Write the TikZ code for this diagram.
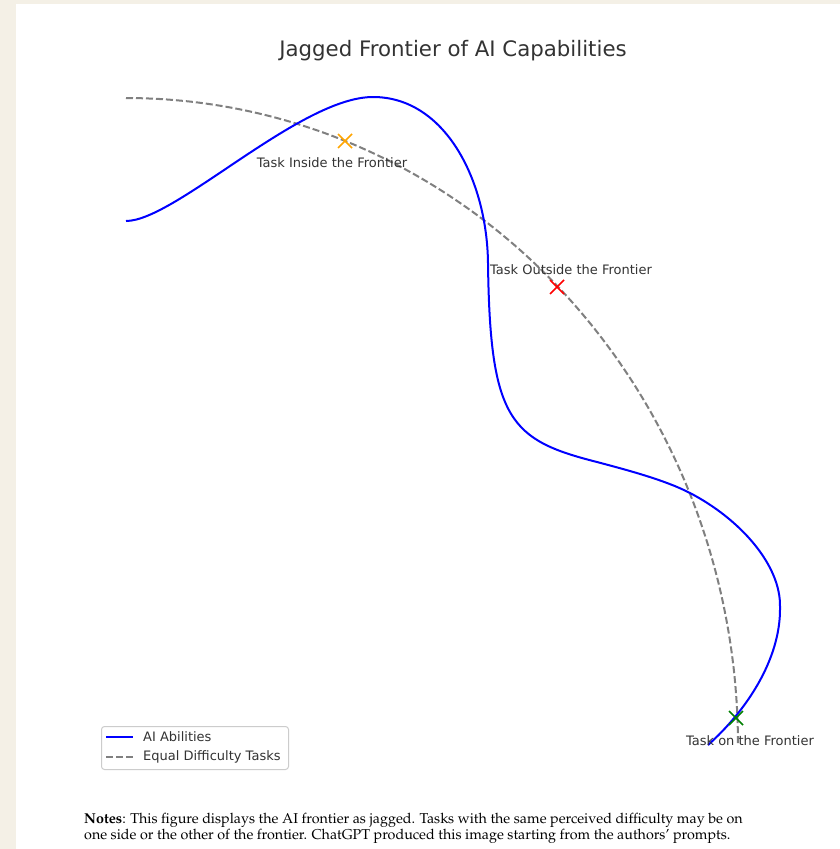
\documentclass[tikz,border=0pt]{standalone}
\usepackage[T1]{fontenc}
\usepackage{fontspec}
\setmainfont{DejaVu Sans}
\newcommand\notesfont{\fontencoding{T1}\fontfamily{ppl}\selectfont}
\definecolor{pagebg}{HTML}{F4F0E6}
\definecolor{txtgray}{HTML}{333333}
\definecolor{mplorange}{HTML}{FFA500}
\definecolor{mplgreen}{HTML}{008000}
\definecolor{mplgray}{HTML}{808080}
\tikzset{
  abil/.style={draw=blue, line width=2pt, line join=round},
  equal/.style={draw=mplgray, line width=2pt, dash pattern=on 7pt off 3pt},
  lbl/.style={text=txtgray, font=\fontsize{13}{15}\selectfont, inner sep=0pt},
  xmark/.style={line width=1.7pt},
  legframe/.style={draw=black!20, line width=1pt, rounded corners=3pt, fill=white},
  notes/.style={anchor=base west, inner sep=0pt, font=\notesfont\fontsize{14.3}{17}\selectfont}
}
\begin{document}
\begin{tikzpicture}[x=1pt,y=-1pt]
\useasboundingbox (0,0) rectangle (840,849);
\fill[pagebg] (0,0) rectangle (840,849);
\fill[white] (16,4) rectangle (840,849);
% title
\node[lbl, font=\fontsize{21.3}{25}\selectfont] (title) at (453,51) {Jagged Frontier of AI Capabilities};
% equal difficulty curve
\draw[equal] plot[domain=0:90, samples=120] ({126+612*sin(\x)},{745-647*cos(\x)});
% AI abilities curve
\draw[abil] (126,221) .. controls (175,221) and (300,97) .. (373,97)
  .. controls (445,97) and (487,180) .. (488,263)
  .. controls (490,420) and (510,440) .. (597,462)
  .. controls (627,470) and (665,480) .. (690,493)
  .. controls (740,519) and (781,565) .. (780,607)
  .. controls (781,660) and (745,712) .. (708,745);
% task markers
\coordinate (tin) at (345,141);
\coordinate (tout) at (557,287);
\coordinate (ton) at (736,718);
\draw[xmark, mplorange] (tin) ++(-7,-7) -- ++(14,14) (tin) ++(-7,7) -- ++(14,-14);
\draw[xmark, red] (tout) ++(-7,-7) -- ++(14,14) (tout) ++(-7,7) -- ++(14,-14);
\draw[xmark, mplgreen] (ton) ++(-7,-7) -- ++(14,14) (ton) ++(-7,7) -- ++(14,-14);
\node[lbl] (lin) at (332,163) {Task Inside the Frontier};
\node[lbl] (lout) at (571,270) {Task Outside the Frontier};
\node[lbl] (lon) at (750,741) {Task on the Frontier};
% legend
\node[legframe, minimum width=187pt, minimum height=43pt, anchor=north west] (leg) at (101,726) {};
\coordinate (la1) at (106,737);
\coordinate (lb1) at (133,737);
\coordinate (la2) at (106,757);
\coordinate (lb2) at (133,757);
\draw[abil] (la1) -- (lb1);
\draw[equal] (la2) -- (lb2);
\node[lbl, anchor=west] (legab) at (143,737) {AI Abilities};
\node[lbl, anchor=west] (legeq) at (143,757) {Equal Difficulty Tasks};
% notes
\node[notes] (n1) at (84,823) {\textbf{Notes}: This figure displays the AI frontier as jagged. Tasks with the same perceived difficulty may be on};
\node[notes] (n2) at (84,839) {one side or the other of the frontier. ChatGPT produced this image starting from the authors' prompts.};
\end{tikzpicture}
\end{document}
